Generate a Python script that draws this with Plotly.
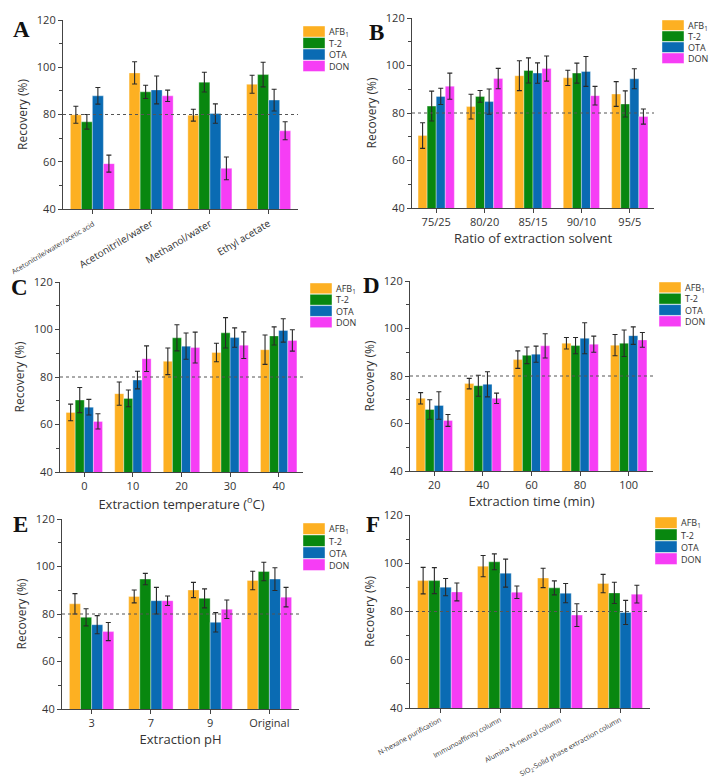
import plotly.graph_objects as go

W, H = 716, 781

series = ["AFB<sub>1</sub>", "T-2", "OTA", "DON"]
colors = ["#FDB022", "#08870F", "#0A6BB3", "#F63DF5"]

# Panel A
catA = ["Acetonitrile/water/acetic acid", "Acetonitrile/water", "Methanol/water", "Ethyl acetate"]
A_AFB1 = [79.9, 97.6, 79.7, 92.8]
A_T2 = [76.9, 89.6, 93.7, 96.9]
A_OTA = [87.9, 90.4, 80.4, 86.1]
A_DON = [59.2, 87.9, 57.2, 73.1]
A_AFB1_err = [3.6, 4.7, 2.5, 3.8]
A_T2_err = [3.1, 2.8, 4.2, 5.2]
A_OTA_err = [3.5, 5.9, 4.1, 4.6]
A_DON_err = [3.6, 2.4, 4.8, 3.8]

# Panel B
catB = ["75/25", "80/20", "85/15", "90/10", "95/5"]
B_AFB1 = [70.5, 82.7, 95.7, 94.8, 88.0]
B_T2 = [82.9, 87.0, 97.9, 96.8, 83.8]
B_OTA = [87.0, 84.8, 96.8, 97.5, 94.4]
B_DON = [91.3, 94.5, 98.7, 87.3, 78.5]
B_AFB1_err = [5.4, 5.2, 6.3, 3.2, 5.2]
B_T2_err = [6.3, 2.5, 5.3, 4.2, 5.5]
B_OTA_err = [3.4, 5.3, 4.3, 6.3, 4.2]
B_DON_err = [5.5, 4.3, 5.3, 3.9, 3.2]

# Panel C
catC = ["0", "10", "20", "30", "40"]
C_AFB1 = [65.1, 73.0, 86.6, 90.3, 91.5]
C_T2 = [70.3, 71.0, 96.5, 98.6, 97.3]
C_OTA = [67.3, 78.7, 93.0, 96.6, 99.6]
C_DON = [61.3, 87.7, 92.4, 93.4, 95.4]
C_AFB1_err = [3.5, 4.9, 5.6, 3.9, 6.2]
C_T2_err = [5.3, 3.5, 5.5, 6.4, 3.8]
C_OTA_err = [3.3, 3.7, 5.5, 4.1, 4.9]
C_DON_err = [3.2, 5.4, 6.5, 5.6, 4.5]

# Panel D
catD = ["20", "40", "60", "80", "100"]
D_AFB1 = [70.6, 76.8, 86.9, 93.8, 93.0]
D_T2 = [65.9, 75.9, 88.7, 92.8, 93.8]
D_OTA = [67.6, 76.5, 89.2, 95.9, 97.0]
D_DON = [61.3, 70.6, 92.7, 93.4, 95.2]
D_AFB1_err = [2.4, 2.2, 3.7, 2.4, 4.5]
D_T2_err = [4.1, 4.4, 3.5, 3.4, 5.6]
D_OTA_err = [5.8, 5.3, 3.4, 6.5, 3.7]
D_DON_err = [2.5, 2.2, 5.1, 3.4, 3.1]

# Panel E
catE = ["3", "7", "9", "Original"]
E_AFB1 = [84.3, 87.4, 90.1, 94.1]
E_T2 = [78.6, 94.7, 86.6, 97.9]
E_OTA = [75.5, 85.6, 76.5, 94.7]
E_DON = [72.6, 85.6, 82.0, 87.1]
E_AFB1_err = [4.3, 2.7, 3.2, 3.9]
E_T2_err = [3.6, 2.4, 4.0, 3.9]
E_OTA_err = [3.8, 5.6, 4.1, 4.8]
E_DON_err = [3.8, 2.0, 3.9, 4.1]

# Panel F
catF = ["N-hexane purification", "Immunoaffinity column", "Alumina N-neutral column",
        "SiO<sub>2</sub>-Solid phase extraction column"]
F_AFB1 = [92.8, 98.8, 93.9, 91.6]
F_T2 = [92.8, 100.6, 89.8, 87.7]
F_OTA = [90.1, 95.9, 87.6, 79.6]
F_DON = [88.1, 88.0, 78.5, 87.2]
F_AFB1_err = [5.5, 4.4, 4.0, 3.8]
F_T2_err = [5.4, 3.3, 2.9, 4.4]
F_OTA_err = [3.6, 5.8, 4.0, 5.0]
F_DON_err = [3.7, 2.6, 4.7, 3.7]

xtitles = ["", "Ratio of extraction solvent", "Extraction temperature (<sup>o</sup>C)",
           "Extraction time (min)", "Extraction pH", ""]
letters = ["A", "B", "C", "D", "E", "F"]

panels = [
    (catA, [A_AFB1, A_T2, A_OTA, A_DON], [A_AFB1_err, A_T2_err, A_OTA_err, A_DON_err]),
    (catB, [B_AFB1, B_T2, B_OTA, B_DON], [B_AFB1_err, B_T2_err, B_OTA_err, B_DON_err]),
    (catC, [C_AFB1, C_T2, C_OTA, C_DON], [C_AFB1_err, C_T2_err, C_OTA_err, C_DON_err]),
    (catD, [D_AFB1, D_T2, D_OTA, D_DON], [D_AFB1_err, D_T2_err, D_OTA_err, D_DON_err]),
    (catE, [E_AFB1, E_T2, E_OTA, E_DON], [E_AFB1_err, E_T2_err, E_OTA_err, E_DON_err]),
    (catF, [F_AFB1, F_T2, F_OTA, F_DON], [F_AFB1_err, F_T2_err, F_OTA_err, F_DON_err]),
]

# pixel geometry: (x_left, x_right, y_top, y_bottom)
geom = [
    (63, 298, 20, 209),
    (412, 654, 18, 208),
    (60, 303, 282, 472),
    (410, 653, 281, 471),
    (62, 299, 519, 709),
    (410, 650, 515, 708),
]
letter_pos = [(21, 30), (376, 33), (19, 287), (371, 286), (20, 524), (373, 524)]
legend_pos = [(303, 26, 11.5), (662, 20, 11), (310, 283, 11.3), (659, 282, 11.3), (303, 523, 12), (655, 517, 12)]

fig = go.Figure()
shapes = []
annotations = []
FONT = "Open Sans"

for i, ((cats, vals, errs), (x0, x1, y0, y1)) in enumerate(zip(panels, geom)):
    k = "" if i == 0 else str(i + 1)
    xa, ya = "x" + k, "y" + k
    for j in range(4):
        fig.add_trace(go.Bar(
            x=cats, y=vals[j], name=series[j], xaxis=xa, yaxis=ya,
            marker=dict(color=colors[j], line=dict(color="rgba(255,255,255,0.6)", width=0.6)),
            error_y=dict(type="data", array=errs[j], color="#2a2a2a", thickness=1.1, width=2.5),
            showlegend=False, offsetgroup=str(j),
        ))
    tickfont = dict(family=FONT, size=11, color="#333")
    xaxis = dict(
        domain=[x0 / W, x1 / W], anchor=ya, showline=True, linecolor="#444", linewidth=1.2,
        ticks="outside", ticklen=4, tickcolor="#444", showgrid=False, tickfont=tickfont,
        fixedrange=True, automargin=False,
    )
    if i == 0:
        xaxis["tickangle"] = -31
        xaxis["tickmode"] = "array"
        xaxis["tickvals"] = cats
        xaxis["ticktext"] = ['<span style="font-size:7px;fill:#333;color:#333">' + cats[0] + '</span>'] + cats[1:]
        xaxis["tickfont"] = dict(family=FONT, size=10, color="#333")
    elif i == 5:
        xaxis["tickangle"] = -29
        xaxis["tickfont"] = dict(family=FONT, size=7, color="#333")
    if xtitles[i]:
        xaxis["title"] = dict(text=xtitles[i], font=dict(family=FONT, size=13, color="#333"), standoff=4)
    yaxis = dict(
        domain=[1 - y1 / H, 1 - y0 / H], anchor=xa, range=[40, 120], dtick=20, showline=True,
        linecolor="#444", linewidth=1.2, ticks="outside", ticklen=4, tickcolor="#444",
        showgrid=False, zeroline=False, tickfont=tickfont, fixedrange=True, automargin=False,
        minor=dict(dtick=10, ticks="outside", ticklen=2.5, tickcolor="#444"),
        title=dict(text="Recovery (%)", font=dict(family=FONT, size=12, color="#333"), standoff=6),
    )
    fig.update_layout(**{"xaxis" + k: xaxis, "yaxis" + k: yaxis})
    shapes.append(dict(type="line", xref=xa + " domain", yref=ya, x0=0, x1=1, y0=80, y1=80,
                       line=dict(color="#555", width=1, dash="dot")))
    lx, ly = letter_pos[i]
    annotations.append(dict(text="<b>" + letters[i] + "</b>", x=lx / W, y=1 - ly / H, xref="paper",
                            yref="paper", showarrow=False, xanchor="center", yanchor="middle",
                            font=dict(family="Liberation Serif", size=23, color="#111")))
    gx, gy, gh = legend_pos[i]
    for j in range(4):
        ty = gy + j * gh
        shapes.append(dict(type="rect", xref="paper", yref="paper", x0=gx / W, x1=(gx + 22) / W,
                           y0=1 - (ty + gh - 0.5) / H, y1=1 - ty / H,
                           fillcolor=colors[j], line=dict(color="rgba(255,255,255,0.7)", width=0.6)))
        annotations.append(dict(text=series[j], x=(gx + 24) / W, y=1 - (ty + gh / 2) / H,
                                xref="paper", yref="paper", showarrow=False, xanchor="left",
                                yanchor="middle", font=dict(family=FONT, size=9, color="#333")))

fig.update_layout(
    width=W, height=H, margin=dict(l=0, r=0, t=0, b=0), paper_bgcolor="white",
    plot_bgcolor="white", barmode="group", bargap=0.25, bargroupgap=0,
    shapes=shapes, annotations=annotations, showlegend=False,
)

fig.write_html("out.html", config={"displayModeBar": False},
               post_script="document.body.style.margin='0px';document.body.style.overflow='hidden';")
